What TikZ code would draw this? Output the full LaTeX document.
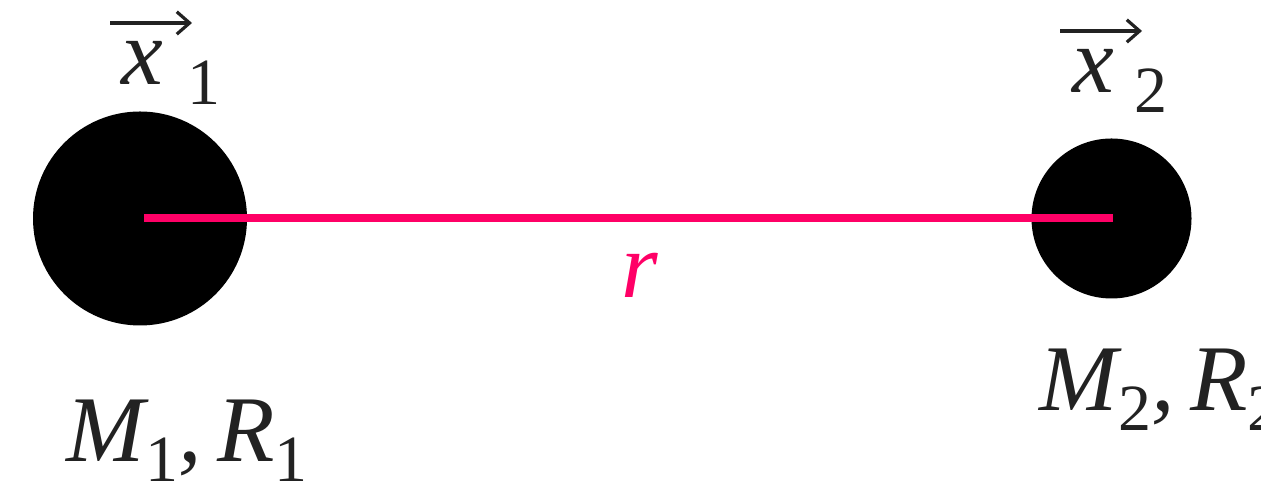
\documentclass[tikz,border=0pt]{standalone}
\usepackage{fontspec}
\setmainfont{Liberation Serif}
\usetikzlibrary{arrows.meta, positioning}
\definecolor{BDink}{HTML}{222222}
\definecolor{BDpink}{HTML}{FF0066}
\newcommand{\bdsub}[1]{\raisebox{-5pt}{\fontsize{16.5}{18}\selectfont\upshape #1}}
\tikzset{
  bdbody/.style={circle, fill=black, draw=none, inner sep=0pt},
  bdlink/.style={line width=2pt, draw=BDpink},
  bdlbl/.style={inner sep=0pt, text=BDink, font=\fontsize{23.5}{28}\selectfont\itshape},
  bdr/.style={bdlbl, text=BDpink},
  bdvecarr/.style={-{Straight Barb[length=3.2pt,width=5.6pt,line width=0.8pt]}, line width=0.8pt, draw=BDink},
}

\begin{document}
\begin{tikzpicture}[x=0.25pt, y=-0.25pt]
  \useasboundingbox (0,0) rectangle (1261,488);
  \node[bdbody, minimum size=53.5pt] (m1) at (140,218.5){};
  \node[bdbody, minimum size=40pt]   (m2) at (1111.5,218.5){};
  \draw[bdlink]([xshift=1pt]m1.center)--([xshift=0.4pt]m2.center);
  \node[bdr, anchor=base] (r) at (640,298){r};
  % position vectors
  \node[bdlbl, anchor=base west] (x1) at (121,85){x\kern6pt\bdsub{1}};
  \node[bdlbl, anchor=base west] (x2) at (1072,93){x\kern5pt\bdsub{2}};
  \draw[bdvecarr]([shift={(-11,-62)}]x1.base west)--([shift={(71,-62)}]x1.base west);
  \draw[bdvecarr]([shift={(-12,-62)}]x2.base west)--([shift={(70,-62)}]x2.base west);
  % masses and radii
  \node[bdlbl, anchor=base west] (l1) at (66,462){M\bdsub{1},\,R\bdsub{1}};
  \node[bdlbl, anchor=base west] (l2) at (1039,411){M\bdsub{2},\,R\bdsub{2}};
\end{tikzpicture}
\end{document}
